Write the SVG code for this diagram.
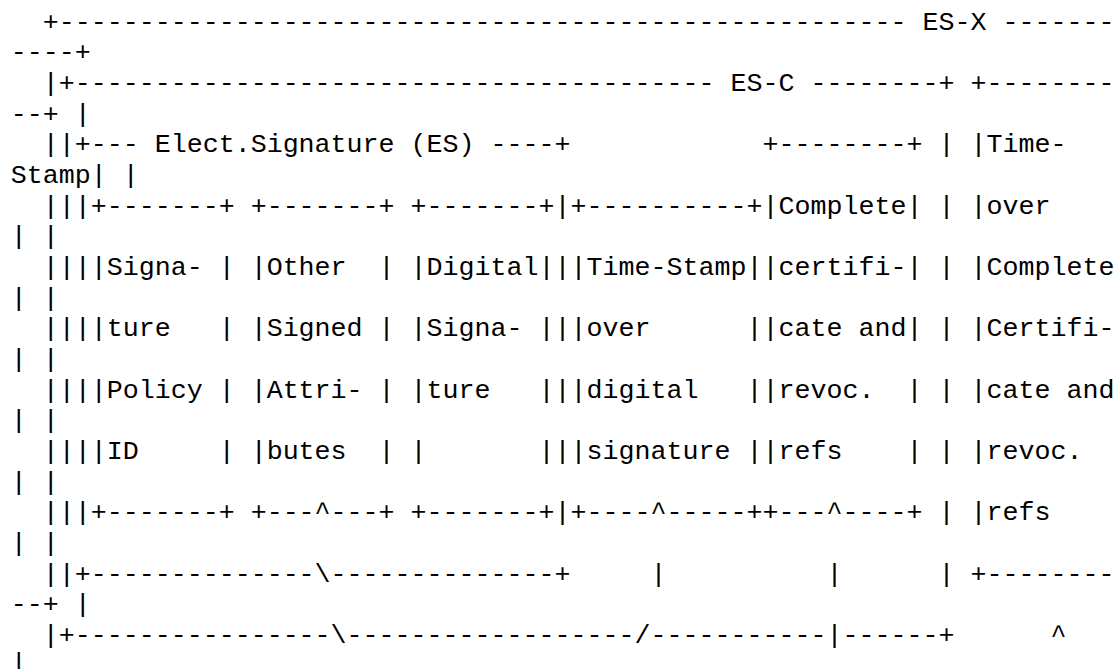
<svg xmlns="http://www.w3.org/2000/svg" width="1117" height="669" viewBox="0 0 1117 669" xml:space="preserve">
  <style>
    .t { font-family: "Courier New", "Liberation Mono", monospace; font-size: 26.67px; fill: #000; white-space: pre; }
  </style>
  <rect width="1117" height="669" fill="#fff"/>
  <!-- ES-X / ES-C / ES layered structure, drawn as monospace text rows -->
  <g id="art" class="t">
    <text xml:space="preserve" x="10.7" y="29.5">  +----------------------------------------------------- ES-X -------</text>
    <text xml:space="preserve" x="10.7" y="60.2">----+</text>
    <text xml:space="preserve" x="10.7" y="90.8">  |+---------------------------------------- ES-C --------+ +--------</text>
    <text xml:space="preserve" x="10.7" y="121.5">--+ |</text>
    <text xml:space="preserve" x="10.7" y="152.2">  ||+--- Elect.Signature (ES) ----+            +--------+ | |Time-</text>
    <text xml:space="preserve" x="10.7" y="182.9">Stamp| |</text>
    <text xml:space="preserve" x="10.7" y="213.5">  |||+-------+ +-------+ +-------+|+----------+|Complete| | |over</text>
    <text xml:space="preserve" x="10.7" y="244.2">| |</text>
    <text xml:space="preserve" x="10.7" y="274.9">  ||||Signa- | |Other  | |Digital|||Time-Stamp||certifi-| | |Complete</text>
    <text xml:space="preserve" x="10.7" y="305.5">| |</text>
    <text xml:space="preserve" x="10.7" y="336.2">  ||||ture   | |Signed | |Signa- |||over      ||cate and| | |Certifi-</text>
    <text xml:space="preserve" x="10.7" y="366.9">| |</text>
    <text xml:space="preserve" x="10.7" y="397.5">  ||||Policy | |Attri- | |ture   |||digital   ||revoc.  | | |cate and</text>
    <text xml:space="preserve" x="10.7" y="428.2">| |</text>
    <text xml:space="preserve" x="10.7" y="458.9">  ||||ID     | |butes  | |       |||signature ||refs    | | |revoc.</text>
    <text xml:space="preserve" x="10.7" y="489.6">| |</text>
    <text xml:space="preserve" x="10.7" y="520.2">  |||+-------+ +---^---+ +-------+|+----^-----++---^----+ | |refs</text>
    <text xml:space="preserve" x="10.7" y="550.9">| |</text>
    <text xml:space="preserve" x="10.7" y="581.6">  ||+--------------\--------------+     |          |      | +--------</text>
    <text xml:space="preserve" x="10.7" y="612.2">--+ |</text>
    <text xml:space="preserve" x="10.7" y="642.9">  |+----------------\------------------/-----------|------+      ^</text>
    <text xml:space="preserve" x="10.7" y="671">|</text>
  </g>
</svg>
